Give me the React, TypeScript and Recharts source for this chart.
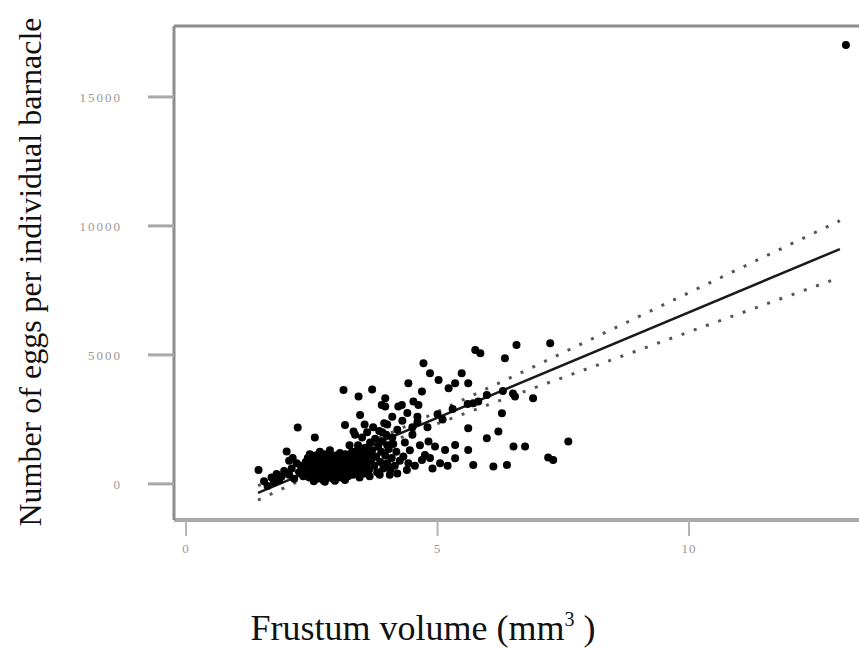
import React from 'react';
import { ScatterChart, Scatter, XAxis, YAxis, ReferenceLine } from 'recharts';

// frustum volume (mm3), eggs per barnacle
const eggPoints: [number, number][] = [
  [13.12, 17015],
  [1.44, 543], [1.8, 388], [1.9, 283], [2.0, 1252], [2.2, 802], [2.22, 2190], [2.56, 1800],
  [3.13, 3643], [3.43, 3384], [3.7, 3660], [3.96, 3320], [3.96, 2996], [4.29, 3062], [4.42, 3903],
  [4.52, 3190], [4.69, 3580], [4.72, 4678], [4.85, 4290], [5.02, 4031], [5.22, 3709], [5.35, 3903],
  [5.48, 4290], [5.61, 3903], [5.75, 5194], [5.85, 5066], [6.34, 4872], [6.57, 5388], [7.24, 5453],
  [6.9, 3320], [6.54, 3384], [6.28, 2740], [5.71, 3128], [5.81, 3190], [5.61, 2159], [5.98, 1771],
  [6.21, 2027], [6.51, 1446], [6.74, 1446], [5.61, 1318], [7.6, 1640], [7.2, 1020], [7.3, 930],
  [5.71, 736], [6.11, 671], [6.38, 736], [4.82, 1640], [4.95, 1446], [5.15, 1318], [5.35, 1512],
  [5.35, 996], [4.69, 930], [4.75, 1124], [4.32, 1058], [4.42, 802], [4.39, 543], [3.16, 2287],
  [3.33, 2027], [3.46, 2674], [3.89, 3062], [4.22, 2996], [4.62, 3062],
  [5.0, 2700], [5.3, 2900], [5.6, 3100], [5.98, 3450], [6.3, 3600], [6.5, 3500], [4.6, 2400],
  [4.8, 2200], [5.1, 2500], [4.0, 2300], [4.1, 2600], [4.2, 2100], [4.3, 2450], [4.4, 2750],
  [4.5, 2200], [4.6, 2600], [4.1, 1800], [3.9, 2000], [4.35, 1600], [4.5, 1900], [4.0, 1500],
  [1.55, 100], [1.62, -80], [1.7, 250], [1.75, 50], [1.85, 150], [1.95, 500], [2.05, 350],
  [2.1, 600], [2.15, 200], [2.25, 450], [2.28, 700], [2.05, 900], [2.12, 1000],
  [2.35, 600], [2.38, 850], [2.4, 400], [2.42, 1000], [2.45, 250], [2.48, 700], [2.5, 550],
  [2.52, 900], [2.55, 350], [2.57, 1100], [2.58, 650], [2.6, 200], [2.62, 800], [2.63, 450],
  [2.65, 1000], [2.67, 300], [2.68, 600], [2.7, 750], [2.72, 150], [2.73, 900], [2.75, 500],
  [2.77, 1150], [2.78, 350], [2.8, 650], [2.82, 850], [2.83, 250], [2.85, 550], [2.87, 1000],
  [2.88, 400], [2.9, 700], [2.92, 200], [2.93, 900], [2.95, 600], [2.97, 450], [2.98, 1100],
  [3.0, 300], [3.02, 800], [3.03, 550], [3.05, 1000], [3.07, 250], [3.08, 700], [3.1, 450],
  [3.12, 900], [3.14, 350], [3.15, 600], [3.17, 1150], [3.19, 500], [3.2, 800], [3.22, 300],
  [3.24, 1000], [3.25, 650], [3.27, 450], [3.29, 850], [3.3, 1250], [2.46, 1150], [2.66, 1250],
  [2.86, 1300], [2.54, 100], [2.76, 80], [2.96, 120], [3.16, 150],
  [2.44, 480], [2.49, 320], [2.53, 760], [2.59, 520], [2.64, 680], [2.69, 420], [2.74, 620],
  [2.79, 780], [2.81, 470], [2.84, 720], [2.89, 560], [2.91, 380], [2.94, 760], [2.99, 640],
  [3.01, 420], [3.04, 680], [3.09, 560], [3.11, 760], [3.18, 380], [3.21, 640], [3.26, 560],
  [2.71, 1050], [2.91, 1050], [3.06, 1200], [2.61, 950], [2.41, 750], [2.33, 300],
  [3.32, 350], [3.35, 700], [3.37, 1100], [3.4, 500], [3.42, 1500], [3.44, 900], [3.46, 1250],
  [3.48, 600], [3.5, 1800], [3.52, 1000], [3.54, 400], [3.56, 1400], [3.58, 750], [3.6, 2000],
  [3.62, 1150], [3.64, 550], [3.66, 1600], [3.68, 900], [3.7, 1300], [3.72, 2200], [3.74, 700],
  [3.76, 1750], [3.78, 1050], [3.8, 450], [3.82, 1450], [3.84, 2050], [3.86, 850], [3.88, 1250],
  [3.9, 1650], [3.92, 600], [3.94, 2350], [3.96, 1100], [3.98, 1900], [4.0, 800], [4.03, 1350],
  [4.06, 550], [4.09, 1000], [4.12, 1550], [4.15, 700], [4.18, 1250], [3.36, 1900], [3.55, 2300],
  [3.25, 1500], [3.45, 250], [3.65, 300], [3.85, 350], [4.05, 350], [4.2, 400],
  [3.38, 820], [3.47, 1080], [3.53, 680], [3.61, 880], [3.69, 1120], [3.57, 1200], [3.41, 1300],
  [4.25, 900], [4.45, 1300], [4.55, 700], [4.65, 1500], [4.85, 1000], [4.9, 600], [5.05, 800],
  [5.2, 700],
];

// regression line and 95% bands
const fitX = [1.43, 13.0];
const fitY = [-350, 9103];
const bandX = [1.43, 2, 3, 4, 5, 6, 7, 8, 9, 10, 11, 12, 13];
const upperY = [-69, 344, 1094, 1911, 2795, 3708, 4625, 5556, 6484, 7413, 8342, 9273, 10203];
const lowerY = [-631, -112, 772, 1589, 2339, 3060, 3777, 4480, 5186, 5891, 6596, 7299, 8003];

const xTicks = [0, 5, 10];
const yTicks = [0, 5000, 10000, 15000];
const X_DOMAIN = [-0.24, 13.38];
const Y_DOMAIN = [-1400, 17750];

const points = eggPoints.map(([x, y]) => ({ x, y }));
const fitLine = fitX.map((x, i) => ({ x, y: fitY[i] }));
const upperBand = bandX.map((x, i) => ({ x, y: upperY[i] }));
const lowerBand = bandX.map((x, i) => ({ x, y: lowerY[i] }));

const font = '"Liberation Serif", "Times New Roman", serif';
const noShape = () => <g />;

export default function App() {
  return (
    <div style={{ position: 'absolute', left: 0, top: 0, width: 859, height: 648, background: '#fff', fontFamily: font }}>
      <ScatterChart width={859} height={648} margin={{ top: 26, right: 0, left: 0, bottom: 88 }}>
        <XAxis
          type="number"
          dataKey="x"
          domain={X_DOMAIN}
          ticks={xTicks}
          allowDataOverflow
          height={40}
          axisLine={{ stroke: '#a9a9a9', strokeWidth: 4 }}
          tickLine={{ stroke: '#b3b3b3', strokeWidth: 2 }}
          tickSize={16}
          tickMargin={8}
          tick={{ fill: '#999999', fontSize: 13, fontFamily: font, letterSpacing: 1 }}
        />
        <YAxis
          type="number"
          dataKey="y"
          domain={Y_DOMAIN}
          ticks={yTicks}
          allowDataOverflow
          width={174}
          axisLine={{ stroke: '#8d8d8d', strokeWidth: 3 }}
          tickLine={{ stroke: '#a8a8a8', strokeWidth: 3 }}
          tickSize={26}
          tickMargin={26}
          tick={{ fill: '#999999', fontSize: 13, fontFamily: font, letterSpacing: 2 }}
        />
        <ReferenceLine y={Y_DOMAIN[1]} stroke="#8d8d8d" strokeWidth={3} />
        <Scatter
          data={upperBand}
          line={{ stroke: '#555', strokeWidth: 3, strokeDasharray: '3 10' }}
          shape={noShape}
          isAnimationActive={false}
        />
        <Scatter
          data={lowerBand}
          line={{ stroke: '#555', strokeWidth: 3, strokeDasharray: '3 10' }}
          shape={noShape}
          isAnimationActive={false}
        />
        <Scatter
          data={fitLine}
          line={{ stroke: '#1a1a1a', strokeWidth: 2.5 }}
          shape={noShape}
          isAnimationActive={false}
        />
        <Scatter
          data={points}
          fill="#000"
          shape={(p: any) => <circle cx={p.cx} cy={p.cy} r={4} fill="#000" />}
          isAnimationActive={false}
        />
      </ScatterChart>
      <div
        style={{
          position: 'absolute',
          left: 30,
          top: 272,
          transform: 'translate(-50%, -50%) rotate(-90deg)',
          whiteSpace: 'nowrap',
          fontSize: 32,
          lineHeight: 1,
          color: '#111',
        }}
      >
        Number of eggs per individual barnacle
      </div>
      <div
        style={{
          position: 'absolute',
          left: 423,
          top: 628,
          transform: 'translate(-50%, -50%)',
          whiteSpace: 'nowrap',
          fontSize: 36,
          lineHeight: 1,
          color: '#111',
        }}
      >
        Frustum volume (mm<span style={{ fontSize: 20, position: 'relative', top: -14 }}>3</span> )
      </div>
    </div>
  );
}
